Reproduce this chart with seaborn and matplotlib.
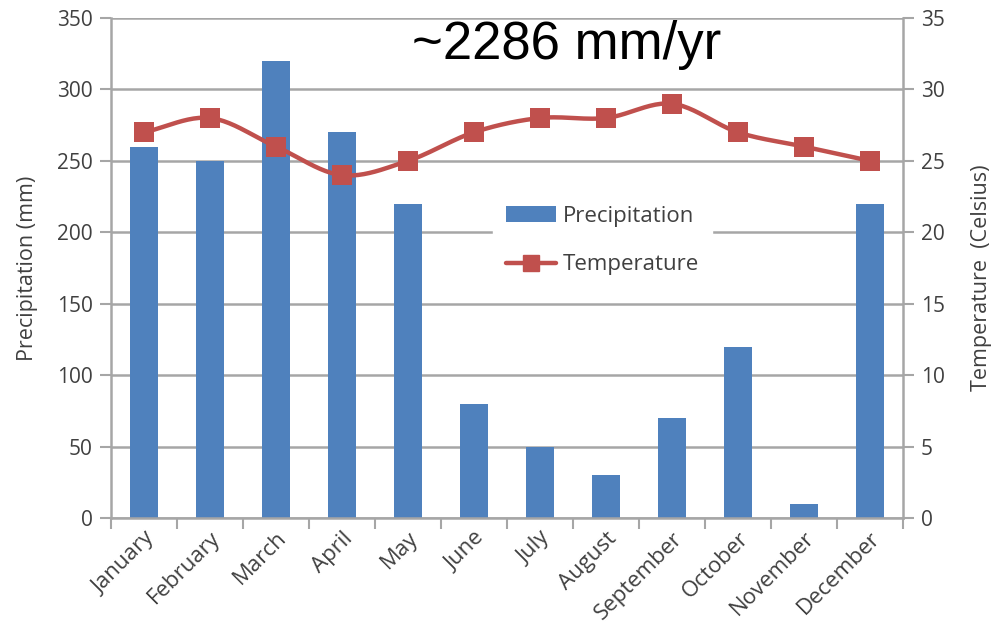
import numpy as np
import pandas as pd
import matplotlib
matplotlib.use("Agg")
import matplotlib.pyplot as plt
from matplotlib.patches import Patch
from matplotlib.lines import Line2D
import seaborn as sns

months = ["January", "February", "March", "April", "May", "June", "July",
          "August", "September", "October", "November", "December"]
precipitation = [260, 250, 320, 270, 220, 80, 50, 30, 70, 120, 10, 220]
temperature = [27, 28, 26, 24, 25, 27, 28, 28, 29, 27, 26, 25]
title_text = "~2286 mm/yr"

BAR_COLOR = "#4F81BD"
LINE_COLOR = "#C0504D"
AXIS_GRAY = "#A6A6A6"
TEXT_GRAY = "#404040"
TICK_FS = 15
XTICK_FS = 16
LABEL_FS = 15.5

sns.set_theme(style="white")
plt.rcParams["font.family"] = ["Open Sans", "DejaVu Sans"]

df = pd.DataFrame({"month": months, "precip": precipitation, "temp": temperature})

fig = plt.figure(figsize=(9.96, 6.39), dpi=100)
ax = fig.add_axes([0.1114, 0.1894, 0.7952, 0.7824])

sns.barplot(data=df, x="month", y="precip", color=BAR_COLOR, width=0.42,
            saturation=1, linewidth=0, edgecolor="none", ax=ax, zorder=2)
ax.set_xlim(-0.5, 11.5)
ax.set_ylim(0, 350)
ax.set_yticks(np.arange(0, 351, 50))
ax.yaxis.grid(True, color=AXIS_GRAY, linewidth=1.8, zorder=0)
ax.set_axisbelow(True)

# category-boundary ticks on the x axis
ax.set_xticks(np.arange(-0.5, 12, 1), minor=True)
ax.tick_params(axis="x", which="major", length=0, pad=7)
ax.tick_params(axis="x", which="minor", length=8, width=1.5, color=AXIS_GRAY,
               direction="out", bottom=True)
ax.tick_params(axis="y", length=8, width=1.5, color=AXIS_GRAY, direction="out",
               left=True, labelsize=TICK_FS, labelcolor=TEXT_GRAY, pad=5)
for lbl in ax.get_xticklabels():
    lbl.set_rotation(45)
    lbl.set_ha("right")
    lbl.set_rotation_mode("anchor")
    lbl.set_fontsize(XTICK_FS)
    lbl.set_color(TEXT_GRAY)
ax.set_xlabel("")
ax.set_ylabel("Precipitation (mm)", fontsize=LABEL_FS, color=TEXT_GRAY, labelpad=14)

for side in ["left", "bottom"]:
    ax.spines[side].set_color(AXIS_GRAY)
    ax.spines[side].set_linewidth(1.8)
ax.spines["top"].set_visible(False)
ax.spines["right"].set_visible(False)

# temperature on the secondary axis
ax2 = ax.twinx()
ax2.set_ylim(0, 35)
ax2.set_yticks(np.arange(0, 36, 5))
ax2.tick_params(axis="y", length=8, width=1.5, color=AXIS_GRAY, direction="out",
                right=True, labelsize=TICK_FS, labelcolor=TEXT_GRAY, pad=5)
for side in ["left", "top", "bottom"]:
    ax2.spines[side].set_visible(False)
ax2.spines["right"].set_color(AXIS_GRAY)
ax2.spines["right"].set_linewidth(1.8)
ax2.set_ylabel("Temperature  (Celsius)", fontsize=LABEL_FS, color=TEXT_GRAY)
ax2.yaxis.set_label_coords(1.086, 0.48)

# smoothed connecting path (Catmull-Rom) through the monthly values
xs = np.arange(len(temperature), dtype=float)
ys = np.asarray(temperature, dtype=float)
px = np.concatenate([[2 * xs[0] - xs[1]], xs, [2 * xs[-1] - xs[-2]]])
py = np.concatenate([[2 * ys[0] - ys[1]], ys, [2 * ys[-1] - ys[-2]]])
t = np.linspace(0, 1, 25)
cx, cy = [], []
for i in range(1, len(px) - 2):
    p0, p1, p2, p3 = (np.array([px[j], py[j]]) for j in range(i - 1, i + 3))
    seg = 0.5 * ((2 * p1)[:, None] + (-p0 + p2)[:, None] * t
                 + (2 * p0 - 5 * p1 + 4 * p2 - p3)[:, None] * t ** 2
                 + (-p0 + 3 * p1 - 3 * p2 + p3)[:, None] * t ** 3)
    cx.extend(seg[0])
    cy.extend(seg[1])
ax2.plot(cx, cy, color=LINE_COLOR, linewidth=3.2, solid_capstyle="round", zorder=3)
sns.scatterplot(x=xs, y=ys, marker="s", s=220, color=LINE_COLOR, edgecolor=LINE_COLOR,
                linewidth=0, ax=ax2, zorder=4, legend=False)

handles = [
    Patch(facecolor=BAR_COLOR, edgecolor="none", label="Precipitation"),
    Line2D([0], [0], color=LINE_COLOR, linewidth=3.2, marker="s", markersize=12,
           label="Temperature"),
]
leg = ax2.legend(handles=handles, loc="center left", bbox_to_anchor=(0.468, 0.555),
                 frameon=True, fancybox=False, framealpha=1, edgecolor="white",
                 fontsize=16, labelspacing=1.25, handlelength=2.25, handletextpad=0.3,
                 borderpad=0.6)
for txt in leg.get_texts():
    txt.set_color(TEXT_GRAY)

fig.text(0.569, 0.9296, title_text, fontsize=38, family=["Liberation Sans", "DejaVu Sans"],
         color="black", ha="center", va="center")

fig.savefig("out.png", dpi=100)
